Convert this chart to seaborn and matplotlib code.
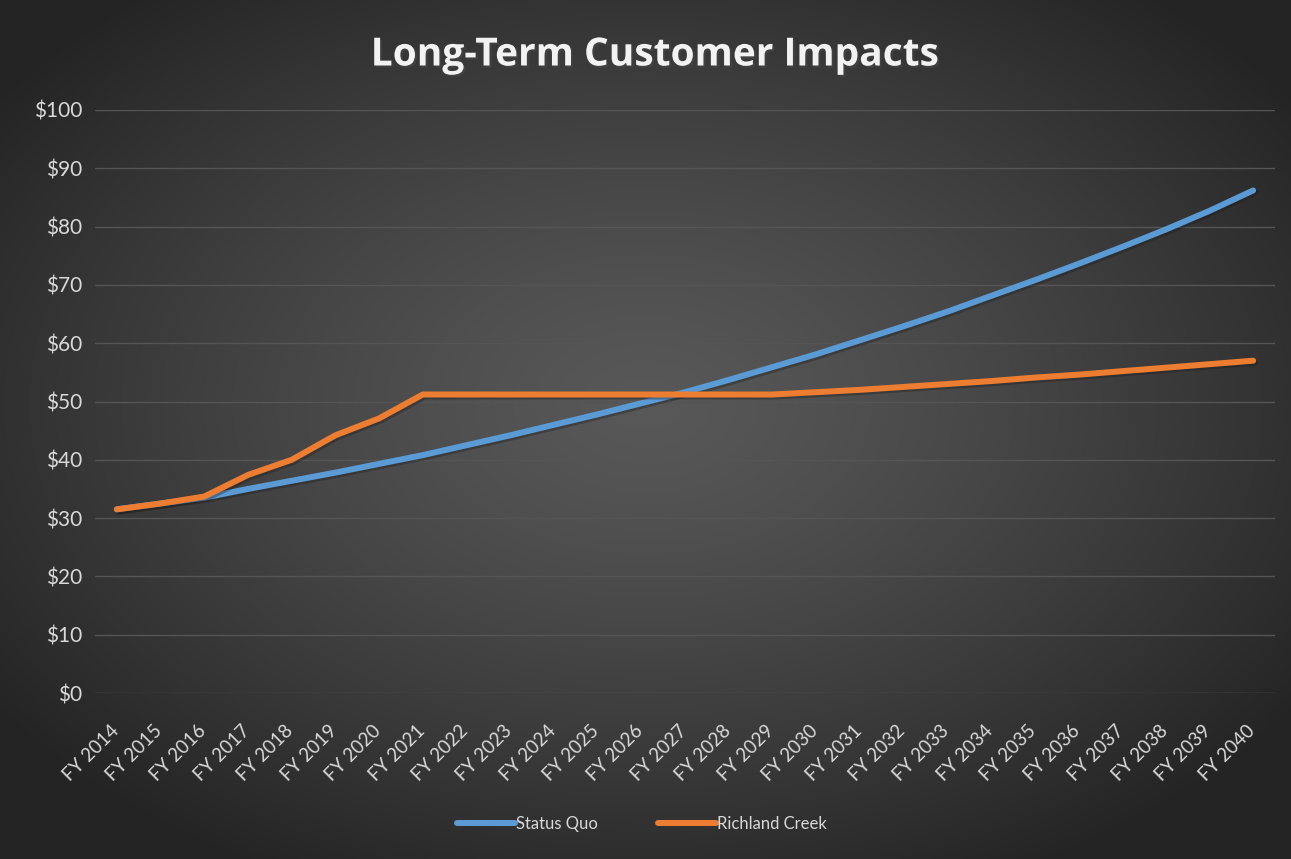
import numpy as np
import pandas as pd
import matplotlib
matplotlib.use('Agg')
import matplotlib.pyplot as plt
import matplotlib.patheffects as pe
import matplotlib.transforms as mtransforms
import seaborn as sns

# 数据
years = [f'FY {y}' for y in range(2014, 2041)]
status_quo = [31.5, 32.5, 33.5, 35.0, 36.4, 37.8, 39.3, 40.8, 42.5, 44.2,
              46.0, 47.8, 49.7, 51.6, 53.7, 55.9, 58.1, 60.5, 62.9, 65.4,
              68.1, 70.8, 73.6, 76.5, 79.5, 82.7, 86.2]
richland_creek = [31.5, 32.5, 33.7, 37.4, 40.0, 44.2, 47.1, 51.2, 51.2, 51.2,
                  51.2, 51.2, 51.2, 51.2, 51.2, 51.2, 51.6, 52.0, 52.5, 53.0,
                  53.5, 54.1, 54.6, 55.2, 55.8, 56.4, 57.0]
y_ticks = list(range(0, 101, 10))

df = pd.DataFrame({
    'year': years * 2,
    'value': status_quo + richland_creek,
    'series': ['Status Quo'] * len(years) + ['Richland Creek'] * len(years),
})

sns.set_theme(style='dark')
plt.rcParams['font.family'] = ['Lato', 'DejaVu Sans']

fig = plt.figure(figsize=(12.91, 8.59), dpi=100)

# 背景渐变
bg = fig.add_axes([0, 0, 1, 1], zorder=-10)
h, w = 859, 1291
yy, xx = np.mgrid[0:h, 0:w]
r = np.sqrt(((xx - w * 0.5) / (w * 0.62)) ** 2 + ((yy - h * 0.47) / (h * 0.62)) ** 2)
r = np.clip(r, 0, 1)
v = (88 + (36 - 88) * r ** 1.3) / 255
bg.imshow(np.dstack([v, v, v]), aspect='auto', extent=[0, 1, 0, 1])
bg.set_axis_off()

ax = fig.add_axes([95 / 1291, 1 - 693 / 859, (1275 - 95) / 1291, (693 - 110) / 859])
ax.set_facecolor('none')

sns.lineplot(data=df, x='year', y='value', hue='series', sort=False,
             palette={'Status Quo': '#5B9BD5', 'Richland Creek': '#ED7D31'},
             linewidth=4.3, ax=ax, legend=True)
for line in ax.get_lines():
    line.set_solid_capstyle('round')
    line.set_path_effects([pe.SimpleLineShadow(offset=(1.5, -1.5), alpha=0.35), pe.Normal()])

ax.set_xlim(-0.5, len(years) - 0.5)
ax.set_ylim(0, 100)
ax.set_yticks(y_ticks)
ax.set_yticklabels([f'${t}' for t in y_ticks])
ax.grid(axis='y', color='#555555', linewidth=1)
ax.grid(axis='x', visible=False)
for s in ax.spines.values():
    s.set_visible(False)
ax.tick_params(axis='y', colors='#d9d9d9', labelsize=15, length=0, pad=9)
ax.tick_params(axis='x', colors='#d9d9d9', labelsize=13.5, length=0, pad=21)
plt.setp(ax.get_xticklabels(), rotation=45, ha='right', rotation_mode='anchor')
shift = mtransforms.ScaledTranslation(-0.07, 0, fig.dpi_scale_trans)
for lbl in ax.get_xticklabels():
    lbl.set_transform(lbl.get_transform() + shift)
ax.set_xlabel('')
ax.set_ylabel('')

handles, labels = ax.get_legend_handles_labels()
ax.get_legend().remove()
leg = fig.legend(handles, labels, loc='center', bbox_to_anchor=(0.497, 1 - 824 / 859),
                 ncol=2, frameon=False, fontsize=12, handlelength=3.5,
                 handletextpad=0.05, columnspacing=3.6, labelcolor='#d9d9d9')
for lh in leg.get_lines():
    lh.set_linewidth(4.3)
    lh.set_path_effects([])

fig.text(0.507, 1 - 55 / 859, 'Long-Term Customer Impacts', ha='center', va='center',
         fontsize=28, fontweight='bold', color='#f2f2f2', family=['Open Sans', 'DejaVu Sans'],
         path_effects=[pe.withSimplePatchShadow(offset=(1.5, -1.5), alpha=0.5)])

fig.savefig('out.png', dpi=100)
